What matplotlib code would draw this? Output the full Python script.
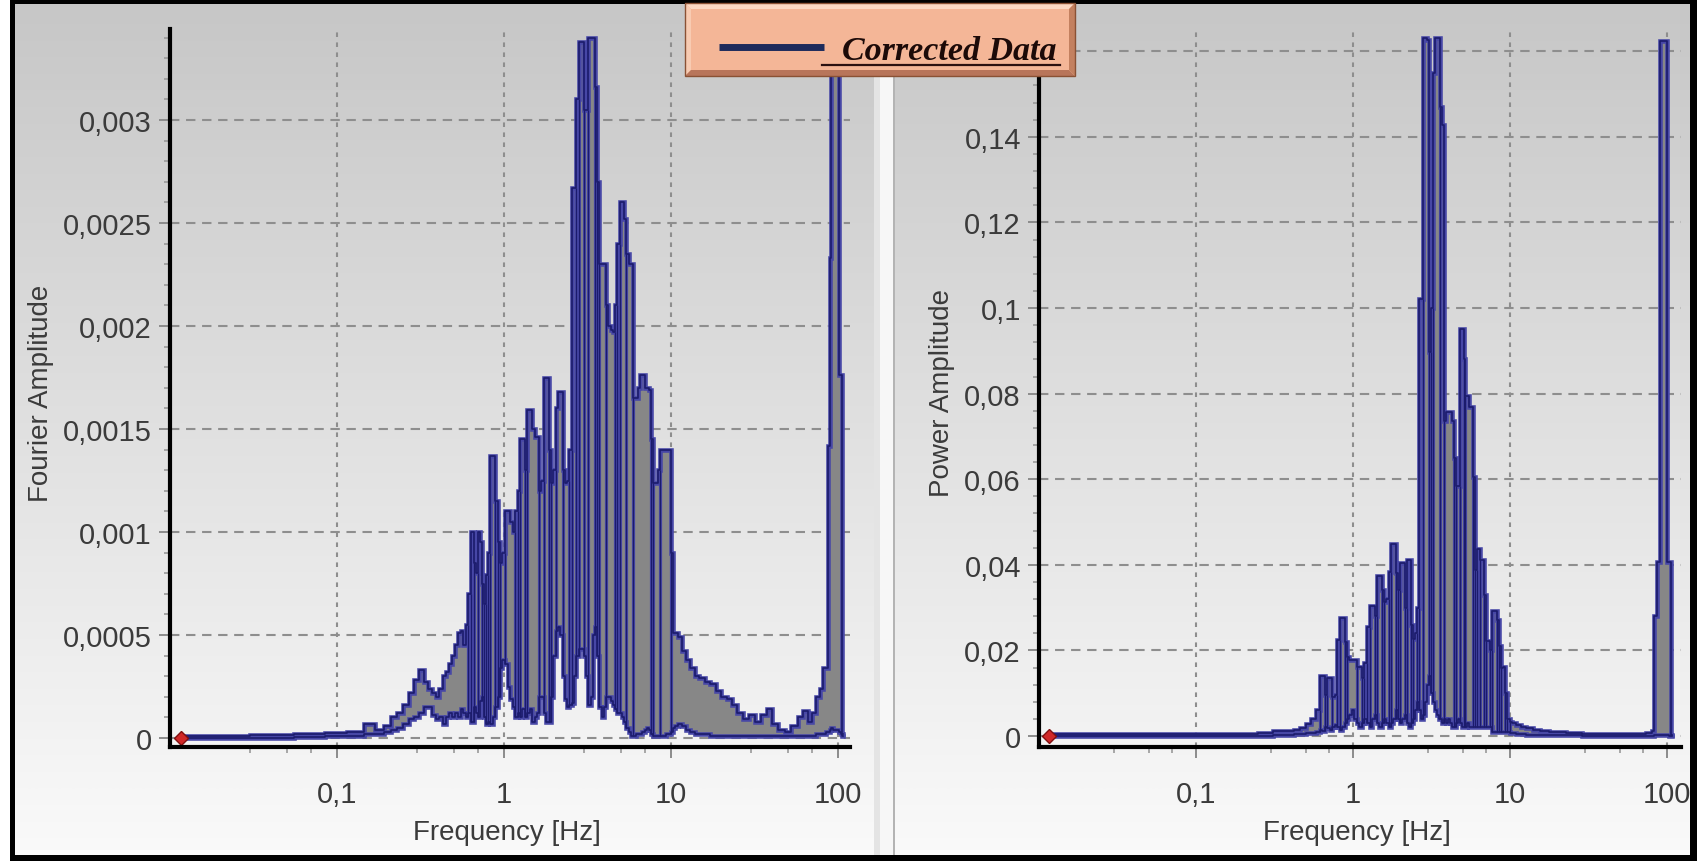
import numpy as np
import matplotlib
matplotlib.use("Agg")
import matplotlib.pyplot as plt
from matplotlib.patches import Rectangle, Polygon
from matplotlib.lines import Line2D
from matplotlib.ticker import FixedLocator, NullFormatter

# ---------------------------------------------------------------------------
# Fourier amplitude spectrum (upper / lower envelope of the plotted trace)
# ---------------------------------------------------------------------------
fourier_freq = [
    0.0116, 0.02, 0.04, 0.07, 0.1, 0.13, 0.16, 0.18, 0.2, 0.22,
    0.24, 0.26, 0.28, 0.30, 0.32, 0.34, 0.36, 0.38, 0.40, 0.42,
    0.44, 0.46, 0.48, 0.50, 0.52, 0.54, 0.56, 0.58, 0.60, 0.62,
    0.645, 0.67, 0.69, 0.71, 0.73, 0.75, 0.77, 0.79, 0.81, 0.84,
    0.87, 0.90, 0.93, 0.96, 0.99, 1.03, 1.07, 1.11, 1.15, 1.19,
    1.23, 1.27, 1.31, 1.35, 1.40, 1.45, 1.50, 1.55, 1.60, 1.65,
    1.70, 1.76, 1.82, 1.88, 1.94, 2.0, 2.07, 2.14, 2.21, 2.28,
    2.35, 2.42, 2.50, 2.58, 2.66, 2.75, 2.85, 2.95, 3.05, 3.15,
    3.25, 3.35, 3.45, 3.56, 3.67, 3.78, 3.9, 4.02, 4.15, 4.28,
    4.42, 4.56, 4.70, 4.85, 5.0, 5.15, 5.32, 5.5, 5.68, 5.86,
    6.05, 6.25, 6.45, 6.65, 6.85, 7.06, 7.28, 7.5, 7.72, 7.95,
    8.2, 8.45, 8.7, 8.95, 9.2, 9.5, 9.8, 10.1, 10.4, 10.8,
    11.3, 11.9, 12.6, 13.4, 14.3, 15.3, 16.5, 17.8, 19.2, 20.7,
    22.3, 24, 26, 28, 30.5, 33, 36, 39, 42, 46,
    50, 55, 60, 64, 68, 72, 76, 80, 83, 86,
    88, 90, 92.5, 95, 97.5, 100, 102.5, 105, 107,
]
fourier_upper = [
    0.000012, 0.000012, 0.000015, 0.00002, 0.000025, 0.00003, 0.00007, 0.00004, 0.00006, 0.0001,
    0.00012, 0.00016, 0.00022, 0.00028, 0.00033, 0.00027, 0.00024, 0.00022, 0.00020, 0.00024,
    0.00030, 0.00032, 0.00036, 0.0004, 0.00045, 0.00051, 0.00052, 0.00045, 0.00055, 0.0007,
    0.001, 0.00085, 0.0008, 0.001, 0.00095, 0.00075, 0.00065, 0.00079, 0.0009, 0.00137,
    0.00137, 0.00115, 0.00095, 0.00085, 0.0009, 0.0011, 0.0011, 0.00105, 0.001, 0.0011,
    0.0012, 0.00145, 0.00145, 0.0013, 0.00159, 0.00159, 0.0015, 0.00146, 0.00146, 0.0012,
    0.00125, 0.00175, 0.00175, 0.0014, 0.00124, 0.0013, 0.0016, 0.00168, 0.00168, 0.0013,
    0.00124, 0.00125, 0.0014, 0.00267, 0.00267, 0.0031, 0.00338, 0.00338, 0.00305, 0.00305,
    0.0034, 0.0034, 0.0034, 0.00316, 0.0027, 0.0023, 0.0023, 0.0023, 0.0021, 0.002,
    0.00198, 0.00197, 0.0021, 0.0024, 0.0026, 0.0026, 0.00252, 0.00235, 0.0023, 0.0023,
    0.00165, 0.00165, 0.0017, 0.00176, 0.00176, 0.0017, 0.0017, 0.00169, 0.00145, 0.00124,
    0.00124, 0.0013, 0.0014, 0.0014, 0.0014, 0.0014, 0.0014, 0.0009, 0.00051, 0.00051,
    0.00049, 0.00042, 0.00038, 0.00034, 0.0003, 0.00029, 0.00027, 0.00026, 0.00023, 0.0002,
    0.00019, 0.00016, 0.00012, 0.00009, 0.00011, 0.00008, 0.00011, 0.00014, 0.00007, 0.00004,
    0.00003, 0.00006, 0.0001, 0.00013, 0.00008, 0.00012, 0.0002, 0.00024, 0.00034, 0.00034,
    0.00142, 0.00233, 0.0034, 0.0034, 0.0034, 0.0034, 0.00176, 0.00176, 0.00002,
]
fourier_lower = [
    0.0, 0.0, 0.000002, 0.000004, 0.000008, 0.00001, 0.00002, 0.00002, 0.00003, 0.00004,
    0.00005, 0.00007, 0.00009, 0.0001, 0.00012, 0.00015, 0.00015, 0.00011, 0.00009, 0.0001,
    0.00007, 0.0001, 0.00012, 0.0001, 0.00012, 0.0001, 0.00014, 0.00012, 0.0001, 0.00012,
    0.00008, 0.00015, 0.00012, 0.0001, 0.00018, 0.0002, 0.0001, 0.00007, 0.00008, 0.00007,
    0.0001, 0.00015, 0.0002, 0.00034, 0.00038, 0.00036, 0.00025, 0.00019, 0.00015, 0.0001,
    0.00012, 0.0001, 0.00014, 0.0001, 0.00012, 0.00014, 0.00008, 0.0001, 0.00012, 0.0002,
    0.0002, 0.00012, 0.00008, 0.00008, 0.0002, 0.0004, 0.00052, 0.00054, 0.0005, 0.0003,
    0.00019, 0.00015, 0.00016, 0.00017, 0.0003, 0.0004, 0.00043, 0.00043, 0.0004, 0.0003,
    0.00016, 0.0002, 0.0005, 0.00054, 0.0004, 0.00015, 0.0001, 0.00015, 0.0002, 0.0002,
    0.00018, 0.00016, 0.00014, 0.00012, 0.00012, 0.0001, 0.00008, 0.00005, 0.00003, 0.00001,
    0.00001, 0.00002, 0.00002, 0.00002, 0.00003, 0.00004, 0.00005, 0.00004, 0.00002, 0.00001,
    0.00001, 0.00001, 0.00001, 0.00001, 0.00001, 0.00002, 0.00002, 0.00003, 0.00005, 0.00006,
    0.00007, 0.00006, 0.00004, 0.00003, 0.00002, 0.00002, 0.00002, 0.00001, 0.00001, 0.00001,
    0.00001, 0.00001, 0.00001, 0.00001, 0.00001, 0.00001, 0.00001, 0.00001, 0.00001, 0.00001,
    0.00001, 0.00001, 0.00001, 0.00001, 0.00001, 0.00001, 0.00002, 0.00002, 0.00002, 0.00003,
    0.00003, 0.00004, 0.00005, 0.00004, 0.00004, 0.00004, 0.00003, 0.00002, 0.00001,
]

# ---------------------------------------------------------------------------
# Power amplitude spectrum
# ---------------------------------------------------------------------------
power_freq = [
    0.0116, 0.05, 0.1, 0.2, 0.3, 0.32, 0.36, 0.40, 0.44, 0.48,
    0.52, 0.56, 0.60, 0.625, 0.65, 0.675, 0.70, 0.725, 0.75, 0.78,
    0.81, 0.84, 0.87, 0.90, 0.93, 0.96, 1.0, 1.04, 1.08, 1.12,
    1.16, 1.20, 1.25, 1.30, 1.35, 1.40, 1.45, 1.50, 1.55, 1.60,
    1.66, 1.72, 1.78, 1.84, 1.90, 1.96, 2.03, 2.10, 2.17, 2.24,
    2.31, 2.38, 2.45, 2.52, 2.59, 2.67, 2.75, 2.83, 2.92, 3.01,
    3.10, 3.19, 3.28, 3.37, 3.46, 3.56, 3.66, 3.76, 3.87, 3.98,
    4.10, 4.22, 4.35, 4.48, 4.61, 4.74, 4.87, 5.0, 5.14, 5.28,
    5.43, 5.58, 5.74, 5.9, 6.06, 6.23, 6.40, 6.58, 6.76, 6.95,
    7.15, 7.35, 7.56, 7.78, 8.0, 8.22, 8.45, 8.7, 8.95, 9.2,
    9.5, 9.8, 10.1, 10.6, 11.3, 12.2, 13.3, 14.8, 16.5, 18.9,
    21.5, 24.1, 27, 30.8, 40, 50, 60, 70, 78, 82,
    84.5, 88, 91.5, 95, 98.5, 102, 105.5, 108,
]
power_upper = [
    0.0005, 0.0005, 0.0005, 0.0005, 0.0006, 0.0012, 0.0012, 0.0011, 0.0013, 0.0018,
    0.0028, 0.004, 0.006, 0.0141, 0.0141, 0.0095, 0.0135, 0.0135, 0.009, 0.0095,
    0.0225, 0.0276, 0.0276, 0.022, 0.0185, 0.0178, 0.0178, 0.0178, 0.0162, 0.0162,
    0.0135, 0.017, 0.0255, 0.0303, 0.0303, 0.028, 0.0373, 0.0373, 0.034, 0.0313,
    0.032, 0.0384, 0.0449, 0.0449, 0.038, 0.034, 0.0405, 0.0405, 0.03, 0.0411,
    0.0411, 0.026, 0.0227, 0.024, 0.03, 0.1022, 0.1022, 0.1632, 0.1632, 0.1627,
    0.0897, 0.1, 0.155, 0.163, 0.163, 0.163, 0.147, 0.1427, 0.0735, 0.0757,
    0.0757, 0.0757, 0.0735, 0.065, 0.0584, 0.0584, 0.0951, 0.0951, 0.088, 0.0795,
    0.0795, 0.0768, 0.0768, 0.0605, 0.0389, 0.0438, 0.0438, 0.0411, 0.0411, 0.033,
    0.0222, 0.0222, 0.02, 0.0292, 0.0292, 0.0292, 0.027, 0.021, 0.016, 0.0162,
    0.01, 0.004, 0.0032, 0.003, 0.0025, 0.002, 0.0018, 0.0015, 0.0012, 0.001,
    0.0009, 0.0008, 0.0006, 0.0005, 0.0004, 0.0004, 0.0004, 0.0004, 0.0006, 0.0012,
    0.028, 0.0407, 0.1625, 0.1625, 0.1625, 0.0407, 0.0407, 0.0003,
]
power_lower = [
    0.0, 0.0, 0.0, 0.0, 0.0001, 0.0002, 0.0003, 0.0003, 0.0004, 0.0005,
    0.0006, 0.0008, 0.001, 0.0015, 0.0012, 0.002, 0.0018, 0.0015, 0.002, 0.0025,
    0.002, 0.0015, 0.002, 0.003, 0.004, 0.005, 0.006, 0.004, 0.003, 0.002,
    0.003, 0.004, 0.003, 0.002, 0.004, 0.005, 0.003, 0.002, 0.003, 0.004,
    0.003, 0.002, 0.003, 0.004, 0.006, 0.004, 0.003, 0.004, 0.005, 0.003,
    0.002, 0.003, 0.004, 0.006, 0.008, 0.006, 0.004, 0.005, 0.008, 0.012,
    0.014, 0.01, 0.008, 0.006, 0.005, 0.004, 0.004, 0.003, 0.004, 0.003,
    0.004, 0.003, 0.002, 0.002, 0.003, 0.004, 0.003, 0.002, 0.002, 0.002,
    0.003, 0.002, 0.002, 0.002, 0.002, 0.002, 0.002, 0.002, 0.002, 0.002,
    0.002, 0.002, 0.002, 0.001, 0.001, 0.001, 0.001, 0.001, 0.001, 0.001,
    0.001, 0.001, 0.0008, 0.0006, 0.0005, 0.0004, 0.0003, 0.0003, 0.0003, 0.0002,
    0.0002, 0.0002, 0.0002, 0.0001, 0.0001, 0.0001, 0.0001, 0.0001, 0.0001, 0.0001,
    0.0002, 0.0002, 0.0003, 0.0003, 0.0002, 0.0002, 0.0001, 0.0001,
]

# axis ticks and labels
freq_ticks = [0.1, 1, 10, 100]
freq_ticklabels = ["0,1", "1", "10", "100"]
fourier_ticks = [0, 0.0005, 0.001, 0.0015, 0.002, 0.0025, 0.003]
fourier_ticklabels = ["0", "0,0005", "0,001", "0,0015", "0,002", "0,0025", "0,003"]
power_ticks = [0, 0.02, 0.04, 0.06, 0.08, 0.10, 0.12, 0.14, 0.16]
power_ticklabels = ["0", "0,02", "0,04", "0,06", "0,08", "0,1", "0,12", "0,14", ""]

# ---------------------------------------------------------------------------
W, H, DPI = 1697, 862, 100
FONT = "Liberation Sans"
TXT = "#3b3b3b"
EDGE_LIGHT = "#4747a6"
EDGE_DARK = "#1b1b6c"

fig = plt.figure(figsize=(W / DPI, H / DPI), dpi=DPI)
fig.patch.set_facecolor("white")

# window background: two gradient panels, a splitter and a black frame
bg = fig.add_axes([0, 0, 1, 1], zorder=-10)
grad = np.linspace(0.78, 0.98, 256)[:, None]
grad_img = np.dstack([grad, grad, grad])
bg.imshow(grad_img, extent=(15, 874, 856, 5), aspect="auto", interpolation="bilinear")
bg.imshow(grad_img, extent=(895, 1690, 856, 5), aspect="auto", interpolation="bilinear")
bg.add_patch(Rectangle((874, 5), 21, 851, fc="#e4e4e4", ec="none"))
bg.add_patch(Rectangle((880, 5), 13, 851, fc="#f7f7f7", ec="none"))
bg.add_patch(Rectangle((893, 5), 2, 851, fc="#b4b4b4", ec="none"))
for x, y, w, h in [(10, 0, W - 10, 5), (10, 856, W - 10, 6), (10, 0, 5, H), (1690, 0, 7, H)]:
    bg.add_patch(Rectangle((x, y), w, h, fc="black", ec="none"))
bg.set_xlim(0, W)
bg.set_ylim(H, 0)
bg.axis("off")


def panel(rect, freq, upper, lower, band, xlim, ylim, yticks, ylabels, minor_step,
          ylabel, ylabel_x):
    ax = fig.add_axes(rect)
    ax.set_facecolor("none")
    ax.set_xscale("log")
    ax.set_axisbelow(True)

    f = np.asarray(freq, dtype=float)
    up = np.asarray(upper, dtype=float)
    lo = np.asarray(lower, dtype=float)

    ax.fill_between(f, lo, up, step="mid", color="#878787", lw=0, zorder=2)

    # where the trace falls between neighbouring maxima, draw the fall
    mid = (f[:-1] + f[1:]) / 2
    hi_n = np.maximum(up[:-1], up[1:])
    top = np.minimum(up[:-1], up[1:])
    bot = np.minimum(lo[:-1], lo[1:])
    sel = (mid > band[0]) & (mid < band[1]) & ((hi_n - top) > 0.06 * hi_n)
    ax.vlines(mid[sel], bot[sel], top[sel], colors=EDGE_LIGHT, lw=2.3, zorder=3)
    ax.vlines(mid[sel], bot[sel], top[sel], colors=EDGE_DARK, lw=0.9, zorder=4)

    for series in (up, lo):
        ax.plot(f, series, drawstyle="steps-mid", color=EDGE_LIGHT, lw=3.3,
                solid_joinstyle="miter", zorder=3)
        ax.plot(f, series, drawstyle="steps-mid", color=EDGE_DARK, lw=1.2, zorder=4)
    ax.plot([f[0]], [lo[0]], marker="D", ms=7, color="#d02828", mec="#801010",
            mew=1, ls="none", zorder=6, clip_on=False)

    ax.set_xlim(*xlim)
    ax.set_ylim(*ylim)

    ax.xaxis.set_major_locator(FixedLocator(freq_ticks))
    ax.set_xticklabels(freq_ticklabels)
    minors = [m * d for d in (0.01, 0.1, 1, 10) for m in (3, 5, 7)]
    ax.xaxis.set_minor_locator(FixedLocator(minors))
    ax.xaxis.set_minor_formatter(NullFormatter())
    ax.yaxis.set_major_locator(FixedLocator(yticks))
    ax.set_yticklabels(ylabels)
    ax.yaxis.set_minor_locator(FixedLocator(np.arange(0, ylim[1], minor_step)))

    for side in ("top", "right"):
        ax.spines[side].set_visible(False)
    for side in ("left", "bottom"):
        ax.spines[side].set_linewidth(3.0)
        ax.spines[side].set_color("black")
        ax.spines[side].set_zorder(7)

    ax.tick_params(which="major", direction="out", length=8, width=1.4, color="#8c8c8c",
                   labelsize=21, labelcolor=TXT, pad=5)
    ax.tick_params(axis="x", which="major", pad=16)
    ax.tick_params(which="minor", direction="out", length=4, width=1.2, color="#9a9a9a")
    for lab in ax.get_xticklabels() + ax.get_yticklabels():
        lab.set_family(FONT)

    ax.yaxis.grid(True, which="major", color="#8e8e8e", lw=1.5, ls=(0, (4.5, 3.2)))
    ax.xaxis.grid(True, which="major", color="#8e8e8e", lw=1.5, ls=(0, (2.2, 2.6)))

    ax.set_ylabel(ylabel, family=FONT, fontsize=20, color=TXT)
    ax.yaxis.label.set_va("center")
    ax.yaxis.set_label_coords(ylabel_x, 0.494)
    ax.set_xlabel("Frequency [Hz]", family=FONT, fontsize=20, color=TXT)
    ax.xaxis.label.set_va("center")
    ax.xaxis.set_label_coords(0.495, -0.118)
    return ax


axL = panel([170 / W, (H - 748) / H, 680 / W, 718 / H],
            fourier_freq, fourier_upper, fourier_lower, (0.6, 10.2),
            (0.01, 118), (-0.0000437, 0.003442),
            fourier_ticks, fourier_ticklabels, 0.0001,
            "Fourier Amplitude", -0.19)
axR = panel([1039 / W, (H - 748) / H, 642 / W, 718 / H],
            power_freq, power_upper, power_lower, (0.6, 10.0),
            (0.01, 123), (-0.00257, 0.1652),
            power_ticks, power_ticklabels, 0.004,
            "Power Amplitude", -0.151)

# legend plate on top of both panels
ov = fig.add_axes([0, 0, 1, 1], zorder=20)
ov.set_facecolor("none")
ov.set_xlim(0, W)
ov.set_ylim(H, 0)
ov.axis("off")
x0, x1, y0, y1, b = 685, 1075, 4, 77, 6
ov.add_patch(Rectangle((x0, y0), x1 - x0, y1 - y0, fc="#f4b697", ec="none"))
ov.add_patch(Polygon([(x0, y0), (x1, y0), (x1 - b, y0 + b), (x0 + b, y0 + b)], fc="#fbd8c3", ec="none"))
ov.add_patch(Polygon([(x0, y0), (x0 + b, y0 + b), (x0 + b, y1 - b), (x0, y1)], fc="#f8cbb2", ec="none"))
ov.add_patch(Polygon([(x0, y1), (x0 + b, y1 - b), (x1 - b, y1 - b), (x1, y1)], fc="#b8755a", ec="none"))
ov.add_patch(Polygon([(x1, y0), (x1, y1), (x1 - b, y1 - b), (x1 - b, y0 + b)], fc="#c3805f", ec="none"))
ov.add_patch(Rectangle((x0, y0), x1 - x0, y1 - y0, fc="none", ec="#8a5134", lw=1))
ov.add_line(Line2D([719, 824], [48, 48], color="#1d2b5c", lw=5, solid_capstyle="butt"))
ov.text(842, 60, "Corrected Data", family="Liberation Serif", weight="bold", style="italic",
        fontsize=24.5, color="#1c0a08", ha="left", va="baseline")
ov.add_line(Line2D([822, 1060], [66, 66], color="#2a1010", lw=1.6))

fig.savefig("out.png", dpi=DPI, facecolor=fig.get_facecolor())
